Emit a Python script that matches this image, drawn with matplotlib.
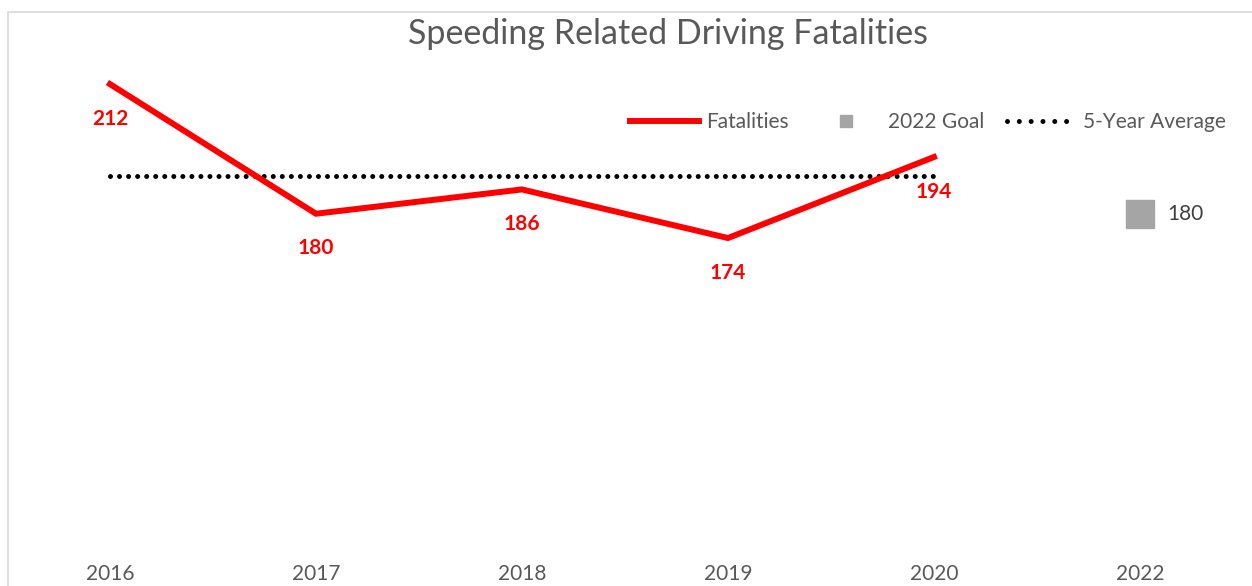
import matplotlib.pyplot as plt
from matplotlib.lines import Line2D
from matplotlib.patches import Rectangle

years = ["2016", "2017", "2018", "2019", "2020", "2022"]
fatalities = [212, 180, 186, 174, 194]
goal_2022 = 180
five_year_avg = sum(fatalities) / len(fatalities)

plt.rcParams["font.family"] = ["Lato", "DejaVu Sans"]
plt.rcParams["lines.scale_dashes"] = False

W, H = 1252, 586
fig = plt.figure(figsize=(W / 100, H / 100), dpi=100)

# light frame of the chart area
fig.patches.append(Rectangle((8 / W, -0.1), 1.1, 1 - 12 / H + 0.1,
                             transform=fig.transFigure, fill=False,
                             edgecolor="#d9d9d9", linewidth=1.2))

ax = fig.add_axes([8 / W, 30 / H, 1244 / W, 544 / H])
ax.set_xlim(-0.495, 5.544)
ax.set_ylim(95.5, 229.8)
for s in ax.spines.values():
    s.set_visible(False)
ax.set_yticks([])
ax.set_xticks(range(len(years)))
ax.set_xticklabels(years, fontsize=15, color="#595959")
ax.tick_params(axis="x", length=0, pad=6)

xs = list(range(len(fatalities)))
ax.plot(xs, fatalities, color="#ff0000", lw=4.3, solid_joinstyle="miter", zorder=3)
ax.plot([xs[0], xs[-1]], [five_year_avg] * 2, color="black", lw=3.6,
        linestyle=(0, (0.01, 6.5)), dash_capstyle="round", zorder=2)
ax.plot([5], [goal_2022], marker="s", markersize=20, color="#a5a5a5",
        linestyle="none", zorder=3)

for x, v in zip(xs, fatalities):
    ax.annotate(str(v), (x, v), xytext=(0, -25), textcoords="offset points",
                ha="center", va="center", color="#ff0000", fontsize=15,
                fontweight="bold")
ax.annotate(str(goal_2022), (5, goal_2022), xytext=(33, 0),
            textcoords="offset points", ha="center", va="center",
            color="#404040", fontsize=15)

fig.text(668 / W, 1 - 34 / H, "Speeding Related Driving Fatalities",
         ha="center", va="center", fontsize=24.5, color="#595959")

handles = [
    Line2D([], [], color="#ff0000", lw=4.3),
    Line2D([], [], marker="s", markersize=9, color="#a5a5a5", linestyle="none"),
    Line2D([], [], color="black", lw=3.6, linestyle=(0, (0.01, 8.5)),
           dash_capstyle="round"),
]
leg = ax.legend(handles, ["Fatalities", "2022 Goal", "5-Year Average"],
                ncol=3, frameon=False, loc="center right",
                bbox_to_anchor=(1226 / W, 1 - 122 / H),
                bbox_transform=fig.transFigure, fontsize=15,
                handlelength=3.3, handletextpad=0.35, columnspacing=1.1,
                borderpad=0, borderaxespad=0)
for t in leg.get_texts():
    t.set_color("#595959")

fig.savefig("out.png", dpi=100)
